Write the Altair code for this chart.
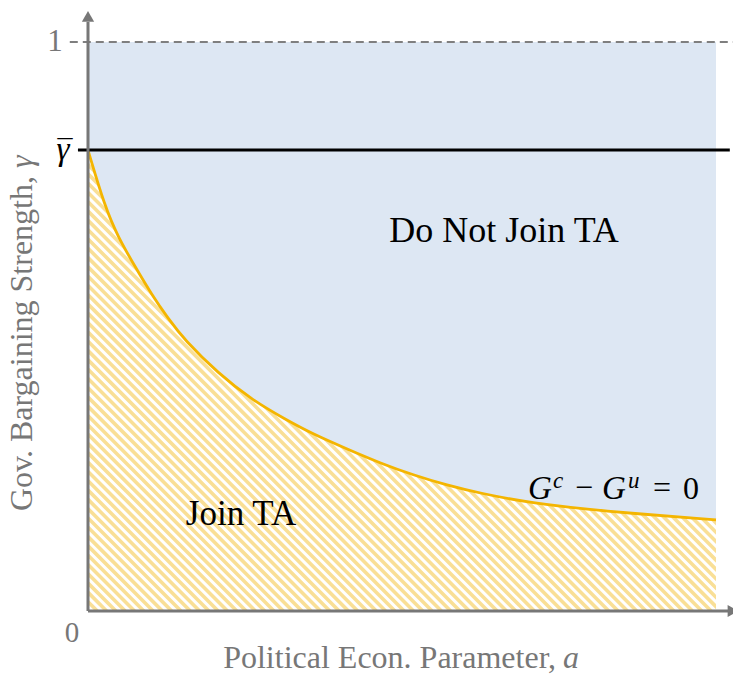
import altair as alt
import numpy as np
import pandas as pd

# Indifference boundary G^c - G^u = 0 in (a, gamma) space
a_vals = [0.0, 0.027, 0.048, 0.075, 0.102, 0.127, 0.154, 0.207, 0.261, 0.314,
          0.358, 0.412, 0.465, 0.518, 0.572, 0.624, 0.704, 0.815, 1.0]
gamma_vals = [0.810, 0.710, 0.657, 0.605, 0.555, 0.515, 0.476, 0.418, 0.371, 0.337,
              0.311, 0.285, 0.260, 0.239, 0.221, 0.207, 0.190, 0.176, 0.160]
gamma_bar = 0.81
gamma_top = 1.0

W, H = 628, 569
GRAY = "#777777"
SERIF = "Liberation Serif"

curve = pd.DataFrame({"a": a_vals, "g": gamma_vals})

x_sc = alt.Scale(domain=[0, 1], nice=False, zero=False)
y_sc = alt.Scale(domain=[0, 1], nice=False, zero=False)
X = lambda f: alt.X(f, type="quantitative", scale=x_sc, axis=None)
Y = lambda f: alt.Y(f, type="quantitative", scale=y_sc, axis=None)

# diagonal hatching for the "Join TA" region (45 degrees on screen)
step = 9.3
offs = np.arange(0, W + H + step, step)
hatch_df = pd.DataFrame({"x": (offs - H) / W, "y": 1.0, "x2": offs / W, "y2": 0.0})
hatch = alt.Chart(hatch_df).mark_rule(clip=True, strokeWidth=3.6, color="#f9df96").encode(
    x=X("x"), y=Y("y"), x2="x2", y2="y2")

# "Do Not Join TA" region above the boundary
blue = alt.Chart(curve).mark_area(color="#dde7f3", opacity=1, interpolate="basis").encode(
    x=X("a"), y=Y("g"), y2=alt.Y2(datum=gamma_top))

line = alt.Chart(curve).mark_line(color="#f4b500", strokeWidth=2.8, interpolate="basis").encode(
    x=X("a"), y=Y("g"))

refs = pd.DataFrame({"x": [-0.029, -0.016], "x2": [1.03, 1.022], "y": [gamma_top, gamma_bar],
                     "kind": ["top", "bar"]})
dashed = alt.Chart(refs[refs.kind == "top"]).mark_rule(
    color="#7f7f7f", strokeWidth=2.2, strokeDash=[8, 5]).encode(x=X("x"), x2="x2", y=Y("y"))
solid = alt.Chart(refs[refs.kind == "bar"]).mark_rule(
    color="black", strokeWidth=3).encode(x=X("x"), x2="x2", y=Y("y"))

axes_df = pd.DataFrame({"x": [0.0, 0.0], "y": [0.0, 0.0], "x2": [0.0, 1.02], "y2": [1.035, 0.0]})
axes = alt.Chart(axes_df).mark_rule(color=GRAY, strokeWidth=3).encode(
    x=X("x"), y=Y("y"), x2="x2", y2="y2")

arrow_up = alt.Chart(pd.DataFrame({"x": [0.0], "y": [1.045]})).mark_point(
    shape="triangle-up", filled=True, size=150, color=GRAY, opacity=1).encode(x=X("x"), y=Y("y"))
arrow_right = alt.Chart(pd.DataFrame({"x": [1.027], "y": [0.0]})).mark_point(
    shape="triangle-right", filled=True, size=150, color=GRAY, opacity=1).encode(x=X("x"), y=Y("y"))


def label(text, px, py, size, color="black", style="normal", align="center",
          baseline="alphabetic", angle=0, font=SERIF):
    kw = dict(text=text, fontSize=size, color=color, font=font, fontStyle=style,
              fontWeight="normal", align=align, baseline=baseline)
    if angle:
        kw["angle"] = angle
    return alt.Chart(pd.DataFrame({"t": [text]})).mark_text(**kw).encode(
        x=alt.value(px), y=alt.value(py))


# boundary label G^c - G^u = 0, set piece by piece
eq = [
    label("G", 440, 457, 33, style="italic", align="left"),
    label("c", 465, 446, 23, style="italic", align="left"),
    label("−", 496, 456, 32, align="center"),
    label("G", 514, 457, 33, style="italic", align="left"),
    label("u", 540, 446, 23, style="italic", align="left"),
    label("=", 574, 456, 32, align="center"),
    label("0", 603, 457, 32, align="center"),
]

texts = [
    label("Do Not Join TA", 416, 200, 36),
    label("Join TA", 153, 483, 35),
    label("1", -33, 0, 31, color=GRAY, baseline="middle"),
    label("0", -16, 591, 29, color=GRAY, baseline="middle"),
    label("γ", -25, 118, 33, style="italic"),
    label("¯", -23, 118, 30),
    label("Political Econ. Parameter,", 468, 626, 32, color=GRAY, align="right"),
    label("a", 475, 626, 32, color=GRAY, style="italic", align="left"),
    label("Gov. Bargaining Strength,", -56, 134, 32, color=GRAY, align="right", angle=270),
    label("γ", -56, 126, 32, color=GRAY, style="italic", align="left", angle=270),
]

chart = alt.layer(hatch, blue, line, dashed, solid, axes, arrow_up, arrow_right,
                  *eq, *texts).properties(
    width=W, height=H,
    autosize=alt.AutoSizeParams(type="none"),
    padding={"left": 88, "top": 42, "right": 17, "bottom": 64},
).configure_view(stroke=None).configure_text(font=SERIF)

chart.save("out.html", embed_options={"renderer": "svg", "actions": False})
